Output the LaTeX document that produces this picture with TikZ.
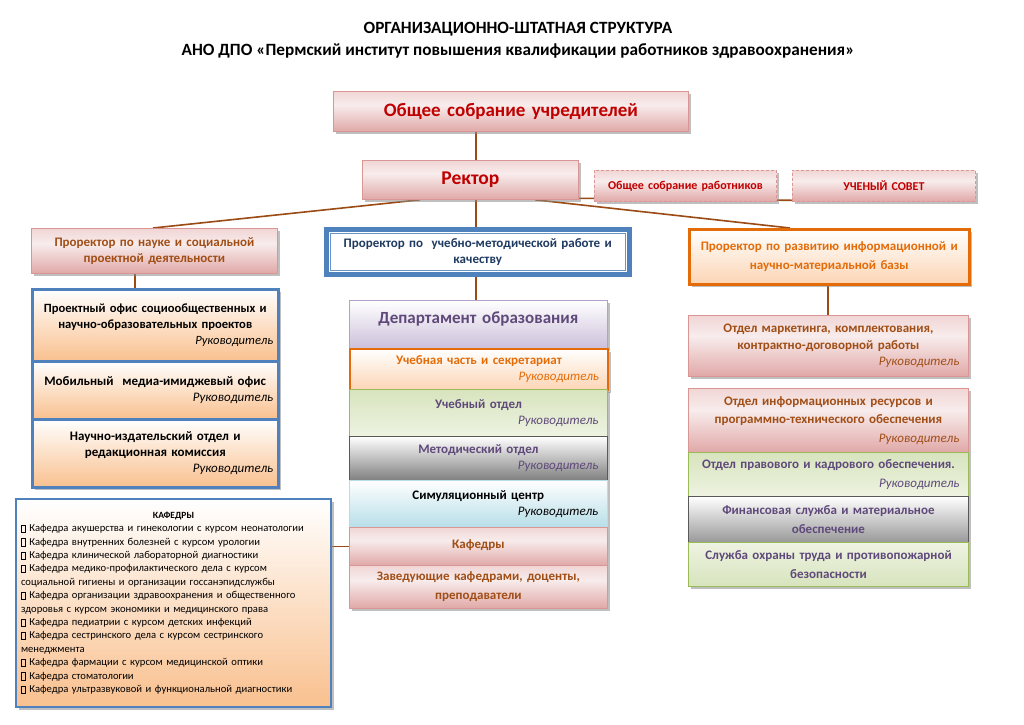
\documentclass[tikz,border=0pt]{standalone}
\usepackage{fontspec}
\setmainfont{Carlito}
\usetikzlibrary{shadows,backgrounds}
\definecolor{dred}{HTML}{C00000}
\definecolor{brT}{HTML}{A04E16}
\definecolor{orT}{HTML}{E36C09}
\definecolor{puT}{HTML}{5F497A}
\definecolor{nvT}{HTML}{1F3A60}
\definecolor{conC}{HTML}{9A4A12}
\definecolor{pkT}{HTML}{F0D6D5}
\definecolor{pkM}{HTML}{F8ECEC}
\definecolor{pkB}{HTML}{E0A8A7}
\definecolor{pkD}{HTML}{D99694}
\definecolor{blB}{HTML}{4F81BD}
\definecolor{peB}{HTML}{F9C08E}
\definecolor{peL}{HTML}{FCD5B4}
\definecolor{grT}{HTML}{D7E4BD}
\definecolor{grB}{HTML}{EEF3E2}
\definecolor{grD}{HTML}{9BBB59}
\definecolor{gyB}{HTML}{7F7F7F}
\definecolor{gyD}{HTML}{595959}
\definecolor{cyB}{HTML}{B7DEE8}
\definecolor{ppB}{HTML}{CCC0DA}
\definecolor{ppD}{HTML}{B3A2C7}
\pgfdeclareverticalshading{pinksh}{100bp}{color(0bp)=(pkB); color(25bp)=(pkB); color(58bp)=(pkM); color(75bp)=(pkT); color(100bp)=(pkT)}
\newcommand{\ruk}[1][4pt]{\\\hspace*{0pt plus 1filll}{\mdseries\itshape Руководитель}\hspace*{#1}}
\newcommand{\sqb}{\raisebox{-0.5pt}{\setlength{\fboxsep}{0pt}\setlength{\fboxrule}{0.4pt}\fbox{\rule{0pt}{7pt}\rule{4pt}{0pt}}}}
\newcommand{\bxn}[7][]{%
  \pgfmathsetmacro\tw{#5-10}%
  \node[#1, text width=\tw pt, minimum height=#6pt] (#2) at (#3,#4) {#7};}
\tikzset{
  bx/.style={anchor=north west, inner xsep=5pt, inner ysep=1pt, align=center,
    font=\bfseries\fontsize{13}{16}\selectfont,
    drop shadow={shadow xshift=2.5pt,shadow yshift=-2.5pt,fill=black!45,opacity=.55}},
  pinkb/.style={bx, shade, shading=pinksh, draw=pkD, line width=.8pt},
  dashb/.style={pinkb, dash pattern=on 3pt off 2pt, font=\bfseries\fontsize{12}{14}\selectfont, text=dred},
  bluepe/.style={bx, top color=white, bottom color=peB, draw=blB, line width=2.5pt},
  greenb/.style={bx, top color=grT, bottom color=grB, draw=grD, line width=1pt, text=puT},
  grayb/.style={bx, top color=white, bottom color=gyB, draw=gyD, line width=.8pt, text=puT},
  conn/.style={draw=conC, line width=1.6pt}
}
\begin{document}
\begin{tikzpicture}[x=1pt,y=-1pt]
\useasboundingbox (0,0) rectangle (1024,724);
\begin{scope}[on background layer]
\fill[white] (0,0) rectangle (1024,724);
\end{scope}

\node[font=\bfseries\fontsize{17.2}{22}\selectfont, align=center] (title) at (518,40.5)
  {ОРГАНИЗАЦИОННО-ШТАТНАЯ СТРУКТУРА\\АНО ДПО «Пермский институт повышения квалификации работников здравоохранения»};

% top
\bxn[pinkb, text=dred, font=\bfseries\fontsize{19}{22}\selectfont]{ucred}{333}{91}{355}{40}{Общее собрание учредителей}
\bxn[pinkb, text=dred, font=\bfseries\fontsize{19.5}{22}\selectfont]{rector}{362}{160}{216}{39}{Ректор}
\bxn[dashb]{osr}{594}{170}{182}{31}{Общее собрание работников}
\bxn[dashb]{uc}{792}{170}{183}{31}{УЧЕНЫЙ СОВЕТ}

% prorectors
\bxn[pinkb, text=brT]{prL}{31}{228}{246}{45}{Проректор по науке и социальной\\проектной деятельности}
\bxn[bx, fill=white, draw=blB, line width=4.5pt, text=nvT]{prM}{324}{227}{303}{45}{Проректор по\ \ учебно-методической работе и\\качеству}
\draw[blB!85, line width=.8pt] ([shift={(6pt,-6pt)}]prM.north west) rectangle ([shift={(-6pt,6pt)}]prM.south east);
\bxn[bx, top color=white, bottom color=peL, draw=orT, line width=2.5pt, text=orT, font=\bfseries\fontsize{13}{19}\selectfont]{prR}{688}{228}{280}{55}{Проректор по развитию информационной и\\научно-материальной базы}

% left stack
\bxn[bluepe, font=\bfseries\fontsize{12.6}{16}\selectfont]{L1}{31}{288}{246}{72}{Проектный офис социообщественных и\\научно-образовательных проектов\ruk[1pt]}
\bxn[bluepe]{L2}{31}{360}{246}{58}{Мобильный\ \ медиа-имиджевый офис\ruk[1pt]}
\bxn[bluepe]{L3}{31}{418}{246}{68}{Научно-издательский отдел и\\редакционная комиссия\ruk[1pt]}

% kafedry list
\node[bx, top color=white, bottom color=peB, draw=blB, line width=2pt, align=left,
  text width=305pt, minimum height=208pt, font=\fontsize{10.6}{13.4}\selectfont] (kl) at (15,498)
  {\hspace*{0pt plus 1filll}{\bfseries\fontsize{9.5}{13.4}\selectfont КАФЕДРЫ}\hspace*{0pt plus 1filll}\null\\
   \sqb{} Кафедра акушерства и гинекологии с курсом неонатологии\\
   \sqb{} Кафедра внутренних болезней с курсом урологии\\
   \sqb{} Кафедра клинической лабораторной диагностики\\
   \sqb{} Кафедра медико-профилактического дела с курсом\\
   социальной гигиены и организации госсанэпидслужбы\\
   \sqb{} Кафедра организации здравоохранения и общественного\\
   здоровья с курсом экономики и медицинского права\\
   \sqb{} Кафедра педиатрии с курсом детских инфекций\\
   \sqb{} Кафедра сестринского дела с курсом сестринского\\
   менеджмента\\
   \sqb{} Кафедра фармации с курсом медицинской оптики\\
   \sqb{} Кафедра стоматологии\\
   \sqb{} Кафедра ультразвуковой и функциональной диагностики};

% middle stack
\bxn[bx, top color=white, bottom color=ppB, draw=ppD, line width=.8pt, text=puT, font=\bfseries\fontsize{17}{20}\selectfont]{dep}{349}{300}{258}{48}{Департамент образования\rule[-13pt]{0pt}{13pt}}
\bxn[bx, top color=white, bottom color=peL, draw=orT, line width=2pt, text=orT]{m1}{349}{348}{258}{41}{Учебная часть и секретариат\ruk}
\bxn[greenb]{m2}{349}{389}{258}{47}{Учебный отдел\ruk}
\bxn[grayb]{m3}{349}{436}{258}{44}{Методический отдел\ruk}
\bxn[bx, top color=white, bottom color=cyB, draw=cyB, line width=.5pt, text=black]{m4}{349}{480}{258}{47}{Симуляционный центр\ruk}
\bxn[pinkb, text=brT]{m5}{349}{527}{258}{38}{Кафедры\rule[-5pt]{0pt}{5pt}}
\bxn[pinkb, text=brT, font=\bfseries\fontsize{13}{19}\selectfont]{m6}{349}{565}{258}{43}{Заведующие кафедрами, доценты,\\преподаватели}

% right stack
\bxn[pinkb, text=brT, font=\bfseries\fontsize{13}{16.5}\selectfont]{R1}{688}{315}{280}{61}{Отдел маркетинга, комплектования,\\контрактно-договорной работы\ruk}
\bxn[pinkb, text=brT, font=\bfseries\fontsize{13}{18.5}\selectfont]{R2}{688}{388}{280}{64}{Отдел информационных ресурсов и\\программно-технического обеспечения\ruk}
\bxn[greenb, font=\bfseries\fontsize{13}{18.5}\selectfont]{R3}{688}{452}{280}{44}{Отдел правового и кадрового обеспечения.\ruk}
\bxn[grayb, font=\bfseries\fontsize{13}{18.5}\selectfont, bottom color=gyB!80!white]{R4}{688}{496}{280}{46}{Финансовая служба и материальное\\обеспечение}
\bxn[greenb, font=\bfseries\fontsize{13}{18.5}\selectfont, top color=grB, bottom color=grT]{R5}{688}{542}{280}{44}{Служба охраны труда и противопожарной\\безопасности}

% connectors
\begin{scope}[on background layer]
\draw[conn] ([xshift=143pt]ucred.south west) -- ([xshift=114pt]rector.north west);
\draw[conn] ([xshift=58pt]rector.south west) -- ([xshift=122pt]prL.north west);
\draw[conn] ([xshift=114pt]rector.south west) -- ([xshift=152pt]prM.north west);
\draw[conn] ([xshift=173pt]rector.south west) -- ([xshift=102pt]prR.north west);
\draw[conn] ([yshift=1.5pt]rector.south east) -- ([yshift=1.5pt]uc.south west);
\draw[conn] ([xshift=104pt]prL.south west) -- ([xshift=104pt]L1.north west);
\draw[conn] ([xshift=152pt]prM.south west) -- ([xshift=127pt]dep.north west);
\draw[conn] ([xshift=140pt]prR.south west) -- ([xshift=140pt]R1.north west);
\draw[conn] (m5.west -| kl.east) -- (m5.west);
\end{scope}
\end{tikzpicture}
\end{document}
